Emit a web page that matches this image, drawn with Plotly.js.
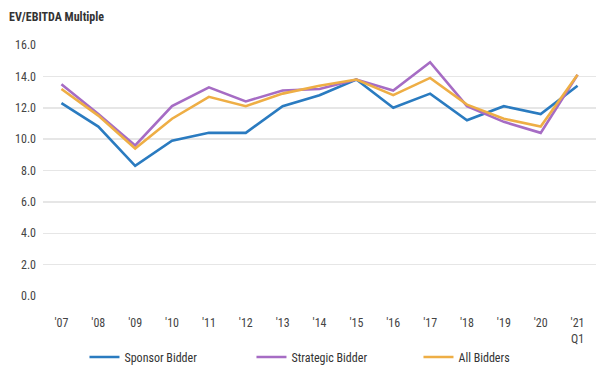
<!DOCTYPE html>
<html>
<head>
<meta charset="utf-8">
<script src="https://cdn.plot.ly/plotly-3.0.1.min.js"></script>
<style>html,body{margin:0;padding:0;background:#fff;}#chart{width:602px;height:367px;}</style>
</head>
<body>
<div id="chart"></div>
<script>
const categories = ["'07","'08","'09","'10","'11","'12","'13","'14","'15","'16","'17","'18","'19","'20","'21<br>Q1"];
const sponsorBidder = [12.3, 10.8, 8.3, 9.9, 10.4, 10.4, 12.1, 12.8, 13.8, 12.0, 12.9, 11.2, 12.1, 11.6, 13.4];
const strategicBidder = [13.5, 11.6, 9.6, 12.1, 13.3, 12.4, 13.1, 13.2, 13.8, 13.1, 14.9, 12.1, 11.1, 10.4, 14.1];
const allBidders = [13.2, 11.5, 9.4, 11.3, 12.7, 12.1, 12.9, 13.4, 13.8, 12.8, 13.9, 12.2, 11.3, 10.8, 14.1];
const seriesNames = ["Sponsor Bidder", "Strategic Bidder", "All Bidders"];
const yTicks = [0, 2, 4, 6, 8, 10, 12, 14, 16];

const FONT = "'Roboto Condensed', 'Liberation Sans Narrow', Roboto, sans-serif";
const colors = ["#2a7bc0", "#a66cc4", "#eeae45"];
const values = [sponsorBidder, strategicBidder, allBidders];

const traces = values.map((v, i) => ({
  x: categories,
  y: v,
  type: "scatter",
  mode: "lines",
  name: seriesNames[i],
  line: {color: colors[i], width: 2.6},
  hoverinfo: "skip"
}));

const layout = {
  width: 602, height: 367,
  margin: {l: 43, r: 6, t: 45, b: 71, autoexpand: false},
  paper_bgcolor: "#fff", plot_bgcolor: "#fff",
  font: {family: FONT, color: "#444", size: 12},
  title: {
    text: "<b>EV/EBITDA Multiple</b>",
    font: {family: FONT, size: 12, color: "#333"},
    xref: "container", yref: "container",
    x: 0.015, xanchor: "left", y: 0.955, yanchor: "middle"
  },
  xaxis: {
    type: "category",
    range: [-0.5, 14.5],
    showgrid: false, zeroline: false, showline: false,
    ticks: "", tickfont: {family: FONT, size: 12, color: "#444"},
    ticklabelstandoff: 18, automargin: false,
    fixedrange: true
  },
  yaxis: {
    range: [0, 16],
    tickvals: yTicks,
    tickformat: ".1f",
    showgrid: true, gridcolor: "#e6e6e6", gridwidth: 1.5,
    zeroline: false, showline: false, ticks: "",
    tickfont: {family: FONT, size: 12, color: "#444"},
    ticklabelstandoff: 6, automargin: false,
    fixedrange: true
  },
  showlegend: true,
  legend: {
    orientation: "h",
    x: 0.075, xanchor: "left",
    y: -0.243, yanchor: "middle",
    entrywidth: 122, entrywidthmode: "pixels",
    font: {family: FONT, size: 12, color: "#333"},
    bgcolor: "rgba(0,0,0,0)"
  }
};

Plotly.newPlot("chart", traces, layout, {displayModeBar: false, staticPlot: true});
</script>
</body>
</html>
